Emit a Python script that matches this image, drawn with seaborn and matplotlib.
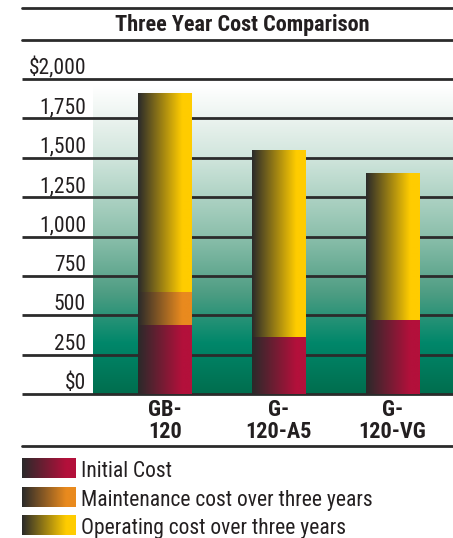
import numpy as np
import pandas as pd
import matplotlib
matplotlib.use("Agg")
import matplotlib.pyplot as plt
import seaborn as sns
from matplotlib import font_manager
from matplotlib.colors import LinearSegmentedColormap, to_rgb

# ---- data ----
models = ["GB-\n120", "G-\n120-A5", "G-\n120-VG"]
initial_cost = [440, 363, 471]
maintenance_cost = [210, 0, 0]
operating_cost = [1260, 1187, 929]
series_names = ["Initial Cost", "Maintenance cost over three years", "Operating cost over three years"]
series_colors = ["#B3103B", "#E98A1E", "#FFCC00"]
y_ticks = [0, 250, 500, 750, 1000, 1250, 1500, 1750, 2000]
y_tick_labels = ["$0", "250", "500", "750", "1,000", "1,250", "1,500", "1,750", "$2,000"]
title = "Three Year Cost Comparison"

sns.set_style("white")
avail = {f.name for f in font_manager.fontManager.ttflist}
fam = [f for f in ["Roboto Condensed", "Liberation Sans Narrow", "Roboto"] if f in avail]
CONDENSED = bool(fam) and fam[0] != "Roboto"
plt.rcParams['font.family'] = fam + ['DejaVu Sans']
TXT = "#231f20"
LINE = "#2b2b2b"
DARK = np.array(to_rgb("#2a2a2a"))

W, H = 453, 538
fig = plt.figure(figsize=(W / 100, H / 100), dpi=100)

def fx(px):
    return px / W

def fy(py):
    return 1 - py / H

ax_l, ax_r, ax_t, ax_b = 93, 453, 79, 394
ax = fig.add_axes([fx(ax_l), fy(ax_b), fx(ax_r - ax_l), (ax_b - ax_t) / H])

df = pd.DataFrame({"model": models, "initial": initial_cost,
                   "maint": maintenance_cost, "oper": operating_cost})
df["b2"] = df["initial"]
df["b3"] = df["initial"] + df["maint"]

bw = 54 / 114
layers = []
for col, bottom, color in [("initial", None, series_colors[0]),
                           ("maint", "b2", series_colors[1]),
                           ("oper", "b3", series_colors[2])]:
    before = len(ax.patches)
    kw = {}
    if bottom is not None:
        kw["bottom"] = df[bottom].values
    sns.barplot(data=df, x="model", y=col, ax=ax, width=bw, color=color,
                saturation=1, linewidth=0, **kw)
    layers.append((ax.patches[before:], color))

def hgrad(color, n=256, full=0.82):
    t = np.linspace(0, 1, n)
    f = np.clip(t / full, 0, 1)
    c = np.array(to_rgb(color))
    rgb = DARK[None, :] * (1 - f[:, None]) + c[None, :] * f[:, None]
    return rgb[None, :, :]

for patches, color in layers:
    img = hgrad(color)
    for p in patches:
        x0, y0 = p.get_x(), p.get_y()
        w, h = p.get_width(), p.get_height()
        p.set_visible(False)
        if h <= 0:
            continue
        ax.imshow(img, extent=[x0, x0 + w, y0, y0 + h], aspect="auto",
                  zorder=3, interpolation="bilinear")

xlim = (-(165 - 93) / 114, 2 + (453 - 392.5) / 114)

# background gradient
bg = LinearSegmentedColormap.from_list("bg", [
    (0.0, "#006e4e"), (0.16, "#00876a"), (0.32, "#4e9d83"),
    (0.5, "#8bbfab"), (0.75, "#d0e5dc"), (0.875, "#ebf3ef"), (0.98, "#ffffff"), (1.0, "#ffffff")])
grad = np.linspace(0, 1, 256)[:, None]
ax.imshow(grad, cmap=bg, origin="lower", aspect="auto",
          extent=[xlim[0], xlim[1], 0, 2000], zorder=0)
ax.set_xlim(*xlim)
ax.set_ylim(0, 2000)

for s in ax.spines.values():
    s.set_visible(False)
ax.set_xticks([])
ax.set_yticks([])
ax.set_xlabel("")
ax.set_ylabel("")

fs_tick = 15.5 if CONDENSED else 14
fs_cat = 16 if CONDENSED else 14
fs_title = 16 if CONDENSED else 14
fs_leg = 15.5 if CONDENSED else 13.5

upp = 2000 / (ax_b - ax_t)  # data units per pixel

# gridlines extending left
x_left = (22 - ax_l) / (ax_r - ax_l)
ax.hlines(y_ticks, x_left, 1, transform=ax.get_yaxis_transform(),
          colors=LINE, linewidth=2, zorder=2, clip_on=False)
for v, lab in zip(y_ticks, y_tick_labels):
    ax.text((86 - ax_l) / (ax_r - ax_l), v + 5 * upp, lab,
            transform=ax.get_yaxis_transform(), ha="right", va="baseline",
            fontsize=fs_tick, color=TXT, clip_on=False)

# category labels (two lines each)
for i, m in enumerate(models):
    for k, part in enumerate(m.split("\n")):
        base_px = 416 + 22 * k
        ax.text(i, -(base_px - ax_b) * upp, part, ha="center", va="baseline",
                fontsize=fs_cat, fontweight="bold", color=TXT, clip_on=False)

# top lines and title
for py in [8, 40, 446]:
    fig.add_artist(plt.Line2D([fx(22), 1], [fy(py), fy(py)], color=LINE, linewidth=2))
fig.text(fx(242), fy(31), title, ha="center", va="baseline", fontsize=fs_title,
         fontweight="bold", color=TXT)

# legend
leg_tops = [458, 487, 515]
for name, color, top in zip(series_names, series_colors, leg_tops):
    lax = fig.add_axes([fx(22), fy(top + 20), fx(54), 20 / H])
    lax.imshow(hgrad(color), aspect="auto", extent=[0, 1, 0, 1], interpolation="bilinear")
    lax.set_axis_off()
    fig.text(fx(81), fy(top + 19), name, ha="left", va="baseline",
             fontsize=fs_leg, color=TXT)

fig.savefig("out.png", dpi=100)
